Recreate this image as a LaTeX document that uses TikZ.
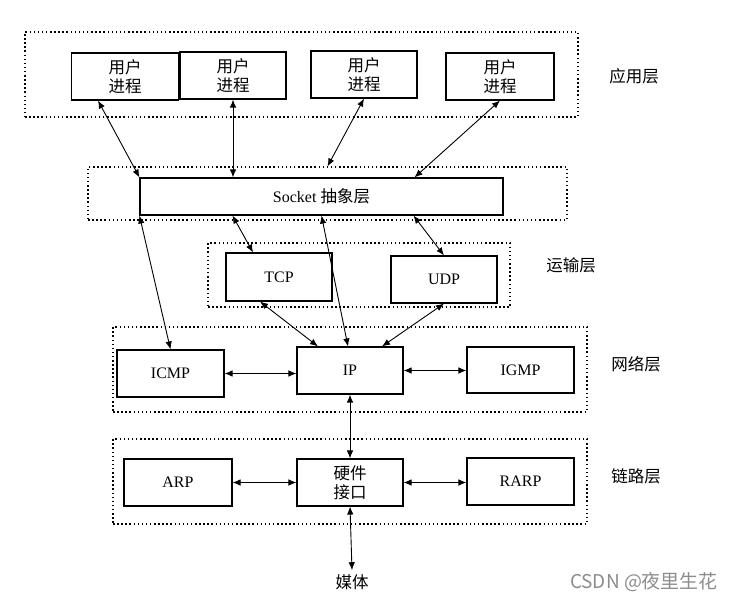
\documentclass[tikz,border=0pt]{standalone}
\usepackage{fontspec}
\setmainfont{Liberation Serif}
\newfontfamily\cjk{Noto Sans CJK SC}
\usetikzlibrary{arrows.meta}
\newcommand\boxfont{\fontsize{16pt}{19pt}\selectfont}
\newcommand\hanfont{\cjk\fontsize{16.5pt}{19pt}\selectfont}

\begin{document}
\begin{tikzpicture}
[x=1pt, y=-1pt, every node/.style={inner sep=0pt},
 layer/.style={rectangle, draw=black, line width=1.1pt, dash pattern=on 1.5pt off 2.6pt},
 box/.style={rectangle, draw=black, line width=1.1pt, fill=white, align=center, font=\boxfont},
 cjkbox/.style={box, font=\hanfont},
 tag/.style={font=\hanfont},
 arr/.style={line width=0.9pt, {Latex[length=8pt,width=6.5pt]}-{Latex[length=8pt,width=6.5pt]}}]
\useasboundingbox (0,0) rectangle (733,601);
% layers
\node (app) [layer, minimum width=553pt, minimum height=85pt] at (301.5, 74.5) {};
\node (socklayer) [layer, minimum width=479pt, minimum height=53pt] at (327.5, 193.5) {};
\node (translayer) [layer, minimum width=302pt, minimum height=64pt] at (359, 275) {};
\node (netlayer) [layer, minimum width=474pt, minimum height=85pt] at (350, 369.5) {};
\node (linklayer) [layer, minimum width=474pt, minimum height=85pt] at (350, 481.5) {};
% boxes
\node (p1) [cjkbox, minimum width=107pt, minimum height=47pt] at (125, 76.5) {用户\\进程};
\node (p2) [cjkbox, minimum width=106pt, minimum height=47pt] at (233, 75.5) {用户\\进程};
\node (p3) [cjkbox, minimum width=106pt, minimum height=47pt] at (364, 74.5) {用户\\进程};
\node (p4) [cjkbox, minimum width=108pt, minimum height=47pt] at (500, 76.5) {用户\\进程};
\node (sock) [box, minimum width=363pt, minimum height=37pt] at (321.5, 196.5) {Socket {\hanfont 抽象层}};
\node (tcp) [box, minimum width=106pt, minimum height=48pt] at (279, 277) {TCP};
\node (udp) [box, minimum width=106pt, minimum height=47pt] at (444, 279.5) {UDP};
\node (icmp) [box, minimum width=107pt, minimum height=47pt] at (170.5, 373.5) {ICMP};
\node (ip) [box, minimum width=106pt, minimum height=47pt] at (350, 370.5) {IP};
\node (igmp) [box, minimum width=107pt, minimum height=46pt] at (520.5, 370) {IGMP};
\node (arp) [box, minimum width=108pt, minimum height=47pt] at (178, 482.5) {ARP};
\node (hw) [cjkbox, minimum width=106pt, minimum height=47pt] at (350, 482.5) {硬件\\接口};
\node (rarp) [box, minimum width=107pt, minimum height=47pt] at (520.5, 481.5) {RARP};
\node (media) [tag] at (352, 582) {媒体};
% layer names
\node (appname) [tag] at (634, 76) {应用层};
\node (transname) [tag] at (571, 265) {运输层};
\node (netname) [tag] at (636, 364) {网络层};
\node (linkname) [tag] at (636, 476) {链路层};
\node (mark) [font=\cjk\fontsize{19pt}{21pt}\selectfont, text=black!45] at (644, 582) {CSDN @夜里生花};
% connectors
\draw [arr] ([xshift=-27pt]p1.south) to (sock.north west);
\draw [arr] (p2.south) to (p2.south |- sock.north);
\draw [arr] (p3.south) to (socklayer.north);
\draw [arr] (p4.south) to ([xshift=93pt]sock.north);
\draw [arr] (sock.south west) to (icmp.north);
\draw [arr] ([xshift=-89pt]sock.south) to ([xshift=-26pt]tcp.north);
\draw [arr] (sock.south) to ([xshift=-2pt]ip.north);
\draw [arr] ([xshift=92pt]sock.south) to (udp.north);
\draw [arr] ([xshift=-19pt]tcp.south) to ([xshift=-32pt]ip.north);
\draw [arr] (udp.south) to ([xshift=32pt]ip.north);
\draw [arr] (icmp.east) to (icmp.east -| ip.west);
\draw [arr] (ip.east) to (ip.east -| igmp.west);
\draw [arr] (ip.south) to (hw.north);
\draw [arr] (arp.east) to (hw.west);
\draw [arr] (hw.east) to (hw.east -| rarp.west);
\draw [arr] (hw.south) to ([yshift=4pt]media.north);
\end{tikzpicture}
\end{document}
